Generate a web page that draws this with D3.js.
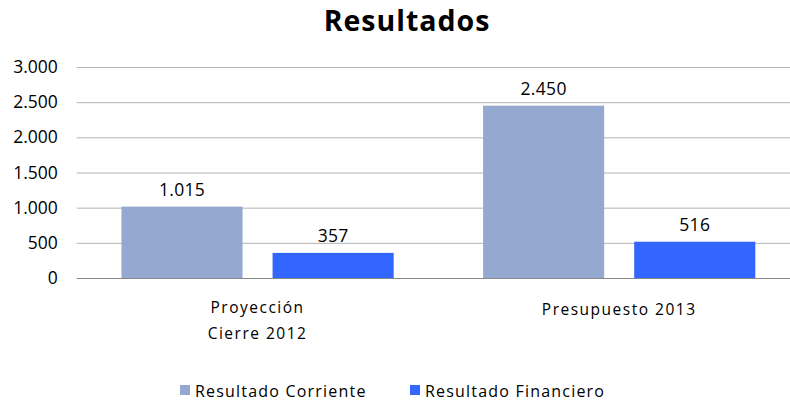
<!DOCTYPE html>
<html><head><meta charset="utf-8">
<script src="https://cdn.jsdelivr.net/npm/d3@7"></script>
<style>body{margin:0;background:#fff;} text{font-family:"Open Sans",Calibri,sans-serif;}</style>
</head><body><svg id="c" width="790" height="402"></svg>
<script>
const title = "Resultados";
const categories = [["Proyección","Cierre 2012"],["Presupuesto 2013"]];
const seriesNames = ["Resultado Corriente","Resultado Financiero"];
const corriente = [1015, 2450];
const financiero = [357, 516];
const yTicks = [0,500,1000,1500,2000,2500,3000];
const colors = ["#95A9D0","#3366FF"];

const fmt = v => d3.format(",")(v).replace(/,/g,".");
const svg = d3.select("#c");
const m = {l:76.75, r:800, t:67, b:278};
const catKeys = categories.map((c,i)=>i);
const x0 = d3.scaleBand().domain(catKeys).range([m.l,m.r]).paddingInner(0).paddingOuter(0);
const x1 = d3.scaleBand().domain([0,1]).range([44.7, x0.bandwidth()-44.7]).paddingInner(30/151).paddingOuter(0);
const y = d3.scaleLinear().domain([0,3000]).range([m.b,m.t]);

svg.append("text").attr("x",407).attr("y",31).attr("text-anchor","middle")
  .attr("font-size",28.5).attr("font-weight","bold").attr("letter-spacing",1).attr("fill","#000").text(title);

const grid = svg.append("g");
grid.selectAll("line").data(yTicks).join("line")
  .attr("x1",m.l).attr("x2",790).attr("y1",d=>y(d)+0.5).attr("y2",d=>y(d)+0.5)
  .attr("stroke",d=>d===0?"#888":"#b3b3b3").attr("stroke-width",1);

const yAxis = d3.axisLeft(y).tickValues(yTicks).tickFormat(fmt).tickSize(0).tickPadding(19);
const ga = svg.append("g").attr("transform",`translate(${m.l},0)`).call(yAxis);
ga.select(".domain").remove();
ga.selectAll("text").attr("font-size",17.5).attr("fill","#000").attr("font-family","'Open Sans',sans-serif");

const data = [corriente, financiero];
catKeys.forEach(ci=>{
  data.forEach((s,si)=>{
    const xx = x0(ci)+x1(si);
    svg.append("rect").attr("x",xx).attr("y",y(s[ci])).attr("width",x1.bandwidth())
      .attr("height",y(0)-y(s[ci])).attr("fill",colors[si]);
    svg.append("text").attr("x",xx+x1.bandwidth()/2).attr("y",y(s[ci])-10.5)
      .attr("text-anchor","middle").attr("font-size",17.5).attr("letter-spacing",0.3).attr("fill","#000").text(fmt(s[ci]));
  });
  const lines = categories[ci];
  const cx = x0(ci)+x0.bandwidth()/2;
  lines.forEach((l,li)=>{
    svg.append("text").attr("x",cx).attr("y",lines.length>1?313+li*26:315)
      .attr("text-anchor","middle").attr("font-size",15.5).attr("letter-spacing",1.5).attr("fill","#000").text(l);
  });
});

const legX = [180, 410];
seriesNames.forEach((n,i)=>{
  svg.append("rect").attr("x",legX[i]).attr("y",385).attr("width",10).attr("height",10).attr("fill",colors[i]);
  svg.append("text").attr("x",legX[i]+15).attr("y",397).attr("font-size",16).attr("letter-spacing",1.2).attr("fill","#000").text(n);
});
</script></body></html>
